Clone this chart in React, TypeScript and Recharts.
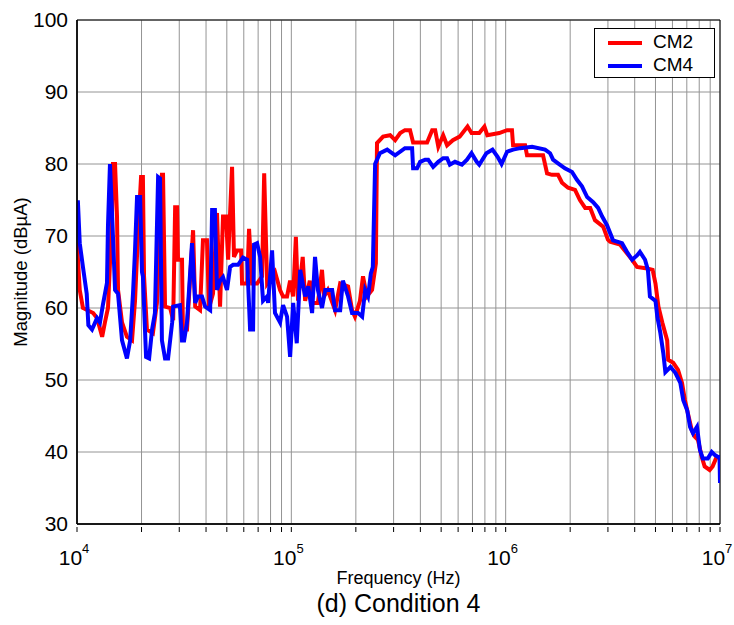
import { LineChart, Line, XAxis, YAxis, CartesianGrid, Legend, ReferenceArea } from 'recharts';

const FONT = '"Liberation Sans", Arial, Helvetica, sans-serif';

// frequency (Hz) / magnitude (dBuA)
const cm2Freq = [
  10000, 10300, 10660, 11900, 12400, 13100, 13500, 13950, 14570, 14720, 15050, 15370, 15540, 16220, 17100,
  18060, 18650, 19260, 19900, 20300, 20550, 21200, 22600, 23600, 24900, 25200, 25750, 27200, 28100, 28700,
  29300, 29600, 30900, 31200, 32600, 34800, 35600, 37500, 38700, 40400, 41300, 43100, 45000, 46500, 48000,
  49600, 50700, 52900, 54000, 55800, 58300, 58900, 62200, 63500, 65600, 69200, 73000, 74700, 77100, 83900,
  88600, 91500, 95500, 98700, 102000, 105000, 107500, 113000, 116000, 122000, 125000, 133000, 139000, 142000,
  148000, 160000, 169000, 184000, 192000, 198000, 209000, 216000, 225000, 238000, 248000, 251000, 268000,
  289000, 305000, 322000, 339000, 358000, 370000, 430000, 454000, 469000, 485000, 511000, 533000, 567000,
  610000, 664000, 693000, 753000, 796000, 821000, 933000, 1015000, 1070000, 1083000, 1232000, 1258000,
  1494000, 1560000, 1645000, 1755000, 1832000, 1955000, 2107000, 2220000, 2350000, 2480000, 2610000, 2850000,
  3000000, 3070000, 3420000, 3680000, 3890000, 4100000, 4570000, 4850000, 5000000, 5160000, 5380000, 5670000,
  5730000, 6050000, 6370000, 6650000, 6860000, 7080000, 7390000, 7640000, 7890000, 8220000, 8480000, 8950000,
  9240000, 9640000, 10000000,
];
const cm2Mag = [
  69, 62.5, 60, 59.3, 58.6, 56, 58, 60, 72.7, 80, 80, 72.7, 62.5, 58, 56,
  55.5, 61, 70.4, 78.2, 78.2, 64.4, 57, 56.5, 60.7, 78.5, 78.5, 60.2, 60, 58.3, 74,
  74, 66.7, 66.7, 57, 57, 70.8, 60.2, 59.7, 69.4, 69.4, 60, 62, 73.2, 60.2, 72.7,
  72.7, 66.7, 79.6, 67.1, 68, 68, 63.4, 63.4, 71, 63.4, 63.4, 64.4, 78.7, 63.4, 65,
  62.5, 61.6, 61.6, 63.8, 61.6, 69.9, 61, 67.1, 61, 63.8, 60.7, 60.7, 65.3, 61.6,
  62.5, 59.7, 63.4, 63, 59.7, 58.8, 61, 64.4, 61.6, 62.5, 66.2, 82.9, 83.8,
  84, 83.3, 84.3, 84.7, 84.7, 83, 83, 84.7, 84.7, 82.4, 84, 82.6, 83.3,
  83.8, 85.2, 84.3, 84.3, 85.2, 84, 84.3, 84.7, 84.7, 82.6, 82.6, 81.2,
  81.2, 78.7, 78.5, 78.5, 77.4, 76.7, 76.4, 75, 73.9, 73.9, 72.2, 71.3,
  69.5, 69.2, 68.8, 67.6, 66.7, 65.7, 65.5, 65.3, 63.4, 60.2, 58, 55.5,
  52.8, 52.4, 51.4, 49.6, 47.2, 45.4, 43, 42.1, 41.7, 39.3, 38, 37.5,
  38, 39.3, 39.3,
];

const cm4Freq = [
  10000, 10100, 10300, 10660, 11100, 11300, 11750, 12400, 12800, 13200, 13800, 13950, 14250, 14570, 15050,
  15540, 16220, 17100, 17700, 18250, 18650, 19060, 19700, 20100, 20300, 21000, 21700, 22400, 23100, 23900,
  24400, 24900, 25750, 26600, 27800, 28100, 30200, 30900, 31600, 32600, 34400, 35600, 36700, 38300, 39600,
  41800, 42700, 44000, 45000, 46500, 48000, 50100, 51800, 53500, 56400, 59500, 62200, 64200, 66300, 67000,
  69200, 71500, 73800, 77100, 77900, 81300, 83900, 88600, 91500, 95500, 98700, 102000, 106000, 110000,
  116000, 120000, 125000, 129000, 133000, 139000, 144000, 155000, 160000, 169000, 174000, 184000, 192000,
  205000, 214000, 221000, 228000, 235000, 240000, 246000, 259000, 280000, 305000, 339000, 366000, 370000,
  386000, 399000, 421000, 435000, 459000, 485000, 511000, 533000, 549000, 580000, 625000, 660000, 693000,
  733000, 753000, 813000, 868000, 917000, 957000, 1015000, 1083000, 1168000, 1328000, 1527000, 1611000,
  1664000, 1755000, 1890000, 2040000, 2150000, 2270000, 2400000, 2560000, 2700000, 2820000, 2970000, 3170000,
  3490000, 3680000, 3890000, 4100000, 4230000, 4470000, 4610000, 4710000, 5000000, 5100000, 5270000, 5440000,
  5560000, 5870000, 6190000, 6530000, 6740000, 7030000, 7250000, 7480000, 7810000, 8060000, 8310000, 8770000,
  9150000, 9450000, 9790000, 9950000, 10000000,
];
const cm4Mag = [
  74.7, 74.7, 69, 65.7, 62, 57.6, 57, 58.6, 58, 60.4, 63.5, 71.5, 80, 73.2, 62.5,
  62, 55.5, 53, 55.5, 62, 68, 75.4, 75.4, 65, 64.4, 53.2, 53, 57, 59.3, 78.2,
  78, 55.5, 53, 53, 58, 60.2, 60.4, 55.5, 55.5, 58, 69, 60.7, 61.6, 61.6, 60.2,
  59.7, 73.6, 73.6, 62.5, 63.8, 64.3, 62.5, 65.7, 66, 66, 67, 66.7, 57, 57, 68.8,
  69, 67.1, 61, 61.6, 60.7, 68, 59.3, 58, 60.4, 58.8, 53.2, 60.7, 55.1, 65.3,
  61.6, 63, 59.3, 67.1, 62.5, 60, 62.5, 62.5, 59.7, 59.7, 63.8, 61.6, 59.3,
  59.3, 58.8, 62.5, 61.6, 64.8, 65.7, 80, 81.5, 82, 81.2, 82.2, 82.2, 79.4,
  79.4, 80.3, 80.6, 80.6, 79.6, 80.3, 80.8, 80.8, 79.9, 80.3, 79.9, 80.6, 81.5,
  80.3, 79.9, 81.5, 82, 81, 80, 81.7, 82, 82.2, 82.4, 82, 81.5,
  80.6, 80.1, 79.4, 78.9, 77.8, 76.9, 75.4, 74.7, 73.9, 72.7, 71.5, 69.4,
  69, 67.8, 66.7, 67.3, 67.8, 66.7, 65.3, 61.6, 61, 58.8, 56.5, 53.7,
  51.1, 51.8, 51, 49.6, 47.2, 45.8, 43.5, 42.6, 43.5, 40.3, 39.1, 39.1,
  40, 39.6, 39.3, 39.3, 35.7,
];

const freqTicks = [
  10000, 20000, 30000, 40000, 50000, 60000, 70000, 80000, 90000,
  100000, 200000, 300000, 400000, 500000, 600000, 700000, 800000, 900000,
  1000000, 2000000, 3000000, 4000000, 5000000, 6000000, 7000000, 8000000, 9000000,
  10000000,
];
const magTicks = [30, 40, 50, 60, 70, 80, 90, 100];

const cm2Data = cm2Freq.map((f, i) => ({ f, v: cm2Mag[i] }));
const cm4Data = cm4Freq.map((f, i) => ({ f, v: cm4Mag[i] }));

const FreqTick = (props: any) => {
  const { x, y, payload } = props;
  const val = payload.value;
  const exp = Math.round(Math.log10(val));
  const decade = Math.abs(Math.pow(10, exp) - val) < 1e-3 * val;
  return (
    <g>
      <line x1={x} x2={x} y1={y} y2={y - 5} stroke="#000" strokeWidth={1} />
      {decade && (
        <text x={x - 3} y={y + 33} textAnchor="middle" fontSize={21} fill="#000">
          10
          <tspan dy={-12} fontSize={13}>
            {exp}
          </tspan>
        </text>
      )}
    </g>
  );
};

const LegendBox = (props: any) => {
  const items = props.payload || [];
  return (
    <div
      style={{
        position: 'relative',
        width: 121,
        height: 50,
        boxSizing: 'border-box',
        border: '1px solid #000',
        background: '#fff',
      }}
    >
      {items.map((it: any, i: number) => (
        <div key={it.value}>
          <div
            style={{
              position: 'absolute',
              left: 13,
              top: 12 + 23 * i,
              width: 34,
              height: 4,
              background: it.color,
            }}
          />
          <div
            style={{
              position: 'absolute',
              left: 58,
              top: 3 + 23 * i,
              fontSize: 19,
              lineHeight: '20px',
              color: '#000',
            }}
          >
            {it.value}
          </div>
        </div>
      ))}
    </div>
  );
};

export default function App() {
  return (
    <div
      style={{
        position: 'absolute',
        left: 0,
        top: 0,
        width: 734,
        height: 625,
        background: '#fff',
        fontFamily: FONT,
      }}
    >
      <LineChart width={734} height={600} margin={{ top: 20, right: 14, bottom: 6, left: 0 }}>
        <CartesianGrid stroke="#949494" strokeWidth={1} />
        <XAxis
          dataKey="f"
          type="number"
          scale="log"
          domain={[10000, 10000000]}
          ticks={freqTicks}
          interval={0}
          allowDataOverflow
          height={70}
          tick={<FreqTick />}
          tickLine={false}
          axisLine={{ stroke: '#000', strokeWidth: 1.5 }}
          label={{ value: 'Frequency (Hz)', position: 'insideBottom', offset: 10, fontSize: 18, fill: '#000' }}
        />
        <YAxis
          type="number"
          domain={[30, 100]}
          ticks={magTicks}
          interval={0}
          width={77}
          tickLine={false}
          tickSize={0}
          tickMargin={9}
          tick={{ fill: '#000', fontSize: 21 }}
          axisLine={{ stroke: '#000', strokeWidth: 1.5 }}
          label={{
            value: 'Magnitude (dBµA)',
            angle: -90,
            position: 'insideLeft',
            offset: 20,
            fontSize: 18.5,
            fill: '#000',
            style: { textAnchor: 'middle' },
          }}
        />
        <ReferenceArea x1={10000} x2={10000000} y1={30} y2={100} fill="none" stroke="#000" strokeWidth={1} />
        <Line
          data={cm2Data}
          dataKey="v"
          name="CM2"
          stroke="#ff0000"
          strokeWidth={4}
          dot={false}
          isAnimationActive={false}
        />
        <Line
          data={cm4Data}
          dataKey="v"
          name="CM4"
          stroke="#0000ff"
          strokeWidth={4}
          dot={false}
          isAnimationActive={false}
        />
        <Legend
          layout="vertical"
          align="center"
          verticalAlign="middle"
          wrapperStyle={{ left: 594, top: 28, width: 121 }}
          content={<LegendBox />}
        />
      </LineChart>
      <div
        style={{
          position: 'absolute',
          left: 77,
          top: 589,
          width: 643,
          textAlign: 'center',
          fontSize: 25,
          lineHeight: '28px',
          color: '#000',
        }}
      >
        (d) Condition 4
      </div>
    </div>
  );
}
